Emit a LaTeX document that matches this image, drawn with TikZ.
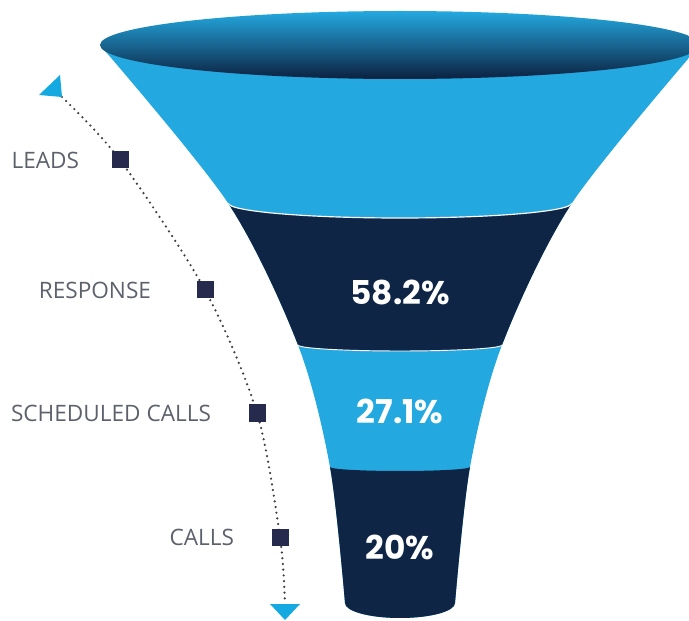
\documentclass[tikz,border=0pt]{standalone}
\usepackage{fontspec}
\newfontfamily\lblfont{Open Sans}
\newfontfamily\pctfont{Poppins}
\usetikzlibrary{positioning}
\definecolor{funnelblue}{HTML}{23A9E0}
\definecolor{funnelnavy}{HTML}{0F2546}
\definecolor{topnavy}{HTML}{0C2140}
\definecolor{tipblue}{HTML}{14A9E1}
\definecolor{sqnavy}{HTML}{262A4D}
\definecolor{lblgrey}{HTML}{5D616B}
\definecolor{dotgrey}{HTML}{3E3E46}
\tikzset{
  sqbox/.style={fill=sqnavy, minimum size=0.51cm, inner sep=0pt},
  lbl/.style={text=lblgrey, font=\lblfont\fontsize{19.3}{21}\selectfont, inner sep=0pt},
  pct/.style={text=white, font=\pctfont\bfseries\fontsize{28}{30}\selectfont},
  dots/.style={dotgrey, line width=2.1pt, line cap=round, dash pattern=on 0pt off 4.9pt}
}

\begin{document}
\begin{tikzpicture}[x=0.03cm, y=-0.03cm]
\useasboundingbox (0,0) rectangle (689,621);
\def\funnelbody{plot[smooth] coordinates {(100,45) (228,203) (298,345) (330,467) (345,603)}
  arc[start angle=180, end angle=0, x radius=55, y radius=15]
  -- plot[smooth] coordinates {(455,603) (470,467) (502,345) (572,203) (700,45)} -- cycle}

\begin{scope}
\clip \funnelbody;
\fill[funnelblue] (0,0) rectangle (720,640);
\fill[funnelnavy] (0,203) -- (228,203) arc[start angle=180, end angle=0, x radius=172, y radius=15]
  -- (720,203) -- (720,345) -- (502,345) arc[start angle=0, end angle=180, x radius=102, y radius=6]
  -- (0,345) -- cycle;
\fill[funnelnavy] (0,467) -- (330,467) arc[start angle=180, end angle=0, x radius=70, y radius=4]
  -- (720,467) -- (720,640) -- (0,640) -- cycle;
\draw[white, line width=1pt] (228,203) arc[start angle=180, end angle=0, x radius=172, y radius=15];
\draw[white, line width=0.8pt] (298,345) arc[start angle=180, end angle=0, x radius=102, y radius=6];
\end{scope}
\shade[top color=funnelblue, bottom color=topnavy] (400,45) ellipse[x radius=300, y radius=34];

\node[pct] (p582) at (400,292) {58.2\%};
\node[pct] (p271) at (400,411) {27.1\%};
\node[pct] (p20) at (400,547) {20\%};

\coordinate (arrtop) at (62,97);
\coordinate (arrbot) at (285,604);
\foreach \n/\x/\y in {1/120/160, 2/205/290, 3/257/413, 4/280/537}
  \coordinate (c\n) at (\x,\y);
\draw[dots] plot[smooth] coordinates {(arrtop) (c1) (c2) (c3) (c4) (arrbot)};
\fill[tipblue] (arrtop) -- ++(-23,-2) -- ++(21,-20) -- cycle;
\fill[tipblue] (arrbot) ++(-15,0) -- ++(30,0) -- ++(-15,16) -- cycle;

\foreach \n/\t/\d in {1/LEADS/0.96cm, 2/RESPONSE/1.35cm, 3/SCHEDULED CALLS/1.11cm, 4/CALLS/1.11cm}
{
\node[sqbox] (sq\n) at (c\n) {};
\node[lbl, left=\d of sq\n] (lb\n) {\t};
}
\end{tikzpicture}
\end{document}
